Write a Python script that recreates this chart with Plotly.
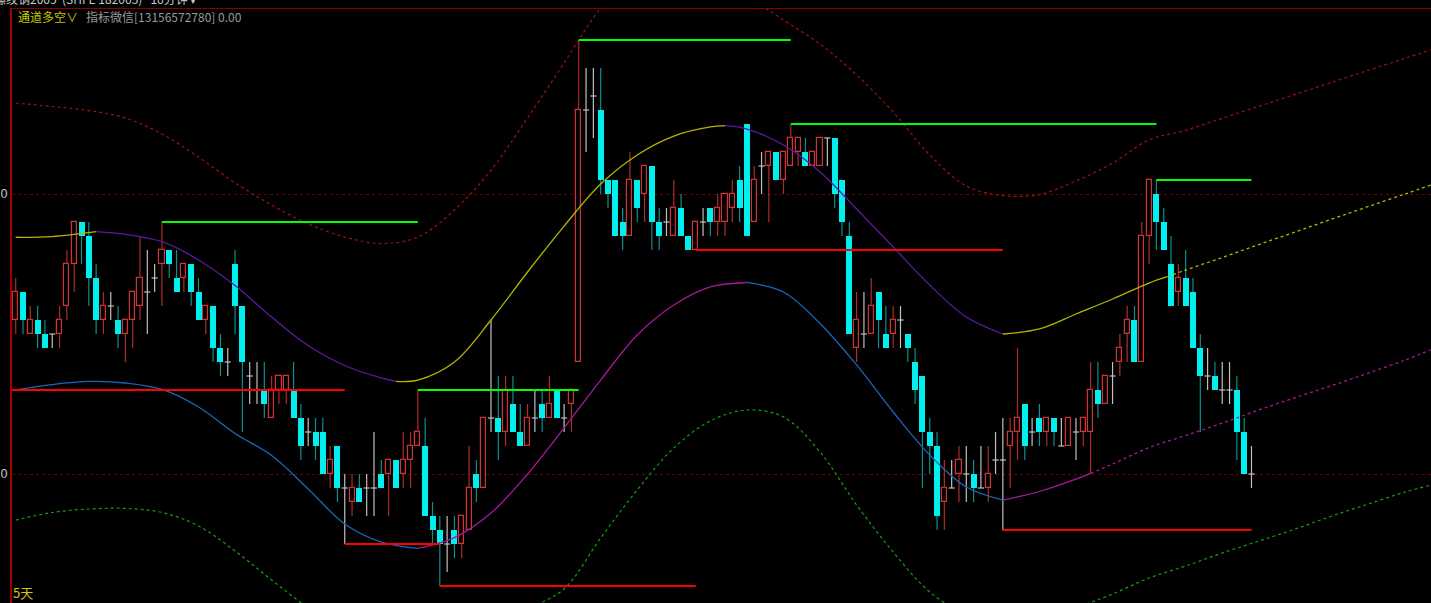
import plotly.graph_objects as go

# ---------------- candle data (price units, index = bar number) ----------------
opens = [3511, 3513, 3510, 3511, 3510, 3510, 3510, 3512, 3515, 3518,
         3517, 3514, 3511, 3512, 3511, 3510, 3511, 3512, 3513, 3514,
         3515, 3516, 3514, 3514, 3515, 3513, 3511, 3512, 3509, 3508,
         3515, 3512, 3507, 3506, 3506, 3504, 3506, 3506, 3506, 3504,
         3503, 3503, 3503, 3500, 3502, 3499, 3498, 3499, 3499, 3499,
         3500, 3500, 3501, 3500, 3501, 3502, 3502, 3497, 3496, 3495,
         3496, 3495, 3496, 3500, 3499, 3504, 3504, 3503, 3505, 3503,
         3502, 3504, 3505, 3504, 3506, 3504, 3505, 3508, 3526, 3527,
         3526, 3521, 3521, 3518, 3517, 3521, 3520, 3522, 3518, 3518,
         3517, 3519, 3517, 3516, 3518, 3519, 3518, 3518, 3519, 3521,
         3525, 3518, 3522, 3522, 3523, 3521, 3522, 3523, 3523, 3522,
         3522, 3524, 3524, 3521, 3517, 3509, 3510, 3510, 3513, 3510,
         3510, 3511, 3510, 3508, 3507, 3503, 3502, 3498, 3499, 3500,
         3500, 3500, 3499, 3499, 3501, 3501, 3502, 3503, 3505, 3503,
         3504, 3503, 3504, 3502, 3502, 3503, 3503, 3503, 3506, 3505,
         3507, 3508, 3510, 3511, 3508, 3517, 3520, 3518, 3515, 3513,
         3514, 3513, 3509, 3507, 3507, 3506, 3506, 3506, 3503, 3500]
highs = [3514, 3513, 3512, 3512, 3511, 3510, 3512, 3516, 3518, 3518,
         3518, 3515, 3513, 3513, 3512, 3511, 3513, 3517, 3516, 3515,
         3518, 3516, 3516, 3515, 3515, 3514, 3512, 3512, 3510, 3509,
         3516, 3512, 3508, 3508, 3508, 3507, 3507, 3507, 3508, 3505,
         3504, 3504, 3504, 3502, 3502, 3500, 3500, 3500, 3500, 3503,
         3501, 3501, 3501, 3503, 3503, 3506, 3504, 3498, 3497, 3497,
         3497, 3497, 3502, 3501, 3504, 3511, 3507, 3507, 3507, 3505,
         3505, 3506, 3506, 3507, 3506, 3505, 3506, 3531, 3529, 3529,
         3529, 3521, 3521, 3519, 3523, 3521, 3522, 3522, 3519, 3519,
         3521, 3520, 3517, 3518, 3519, 3519, 3520, 3520, 3521, 3522,
         3525, 3522, 3523, 3523, 3523, 3523, 3525, 3524, 3524, 3523,
         3524, 3524, 3524, 3521, 3518, 3513, 3513, 3514, 3513, 3512,
         3512, 3512, 3510, 3509, 3507, 3504, 3503, 3501, 3501, 3502,
         3502, 3501, 3502, 3502, 3503, 3504, 3504, 3509, 3505, 3504,
         3505, 3504, 3504, 3504, 3504, 3504, 3504, 3508, 3508, 3507,
         3508, 3510, 3512, 3512, 3518, 3521, 3521, 3519, 3517, 3515,
         3516, 3514, 3510, 3509, 3508, 3508, 3508, 3507, 3504, 3502]
lows = [3510, 3510, 3510, 3509, 3509, 3509, 3509, 3511, 3513, 3515,
        3512, 3510, 3510, 3511, 3509, 3508, 3509, 3511, 3510, 3513,
        3512, 3514, 3513, 3513, 3512, 3511, 3510, 3508, 3507, 3507,
        3510, 3503, 3505, 3505, 3504, 3504, 3505, 3505, 3504, 3501,
        3502, 3501, 3500, 3499, 3498, 3495, 3497, 3498, 3497, 3497,
        3499, 3497, 3499, 3499, 3499, 3502, 3497, 3495, 3492, 3493,
        3494, 3494, 3496, 3498, 3499, 3503, 3501, 3502, 3503, 3502,
        3502, 3503, 3503, 3504, 3504, 3503, 3503, 3508, 3523, 3524,
        3520, 3519, 3517, 3516, 3517, 3518, 3518, 3516, 3516, 3517,
        3517, 3517, 3516, 3516, 3517, 3517, 3517, 3517, 3518, 3518,
        3517, 3518, 3520, 3518, 3521, 3520, 3522, 3522, 3522, 3522,
        3522, 3522, 3519, 3517, 3510, 3508, 3509, 3510, 3509, 3509,
        3509, 3509, 3508, 3505, 3499, 3500, 3496, 3496, 3499, 3498,
        3498, 3498, 3499, 3498, 3500, 3496, 3499, 3501, 3501, 3502,
        3502, 3502, 3502, 3502, 3502, 3501, 3502, 3500, 3504, 3505,
        3505, 3507, 3508, 3508, 3508, 3515, 3516, 3516, 3512, 3512,
        3512, 3509, 3503, 3506, 3506, 3505, 3505, 3501, 3500, 3499]
closes = [3513, 3511, 3511, 3510, 3509, 3510, 3511, 3515, 3518, 3517,
          3514, 3511, 3512, 3512, 3510, 3511, 3513, 3514, 3513, 3514,
          3516, 3515, 3513, 3515, 3513, 3511, 3512, 3509, 3508, 3508,
          3512, 3508, 3507, 3506, 3505, 3506, 3507, 3507, 3504, 3502,
          3503, 3502, 3500, 3501, 3499, 3499, 3499, 3498, 3499, 3499,
          3499, 3501, 3499, 3501, 3502, 3503, 3497, 3496, 3495, 3495,
          3495, 3497, 3499, 3499, 3504, 3504, 3503, 3506, 3503, 3502,
          3504, 3504, 3504, 3505, 3504, 3504, 3506, 3526, 3526, 3527,
          3521, 3520, 3517, 3517, 3521, 3519, 3522, 3518, 3517, 3518,
          3519, 3517, 3516, 3518, 3518, 3518, 3519, 3520, 3520, 3519,
          3517, 3521, 3522, 3523, 3521, 3523, 3524, 3524, 3522, 3523,
          3524, 3524, 3520, 3518, 3510, 3511, 3510, 3512, 3511, 3509,
          3511, 3511, 3509, 3506, 3503, 3502, 3497, 3499, 3499, 3501,
          3500, 3499, 3499, 3500, 3501, 3501, 3503, 3504, 3502, 3503,
          3503, 3504, 3503, 3502, 3504, 3503, 3504, 3506, 3505, 3507,
          3507, 3509, 3511, 3508, 3517, 3521, 3518, 3516, 3512, 3514,
          3512, 3509, 3507, 3507, 3506, 3506, 3506, 3503, 3500, 3500]

# ---------------- channel lines (sampled at bar positions) ----------------
mid_idx = [0, 5, 11, 15, 20, 25, 30, 35, 40, 45, 50, 52, 55, 60, 65, 70, 75, 80,
           85, 90, 95, 97, 100, 105, 110, 115, 120, 125, 130, 135, 140, 145, 150,
           155, 157.5, 160, 165, 170, 175, 180, 185, 190, 193.5]
mid_line = [3516.91, 3516.96, 3517.31, 3517.11, 3516.59, 3515.29, 3513.46, 3511.21,
            3509.18, 3507.75, 3506.86, 3506.62, 3506.71, 3508.0, 3511.0, 3514.43,
            3517.71, 3520.71, 3522.79, 3524.14, 3524.79, 3524.88, 3524.64, 3523.5,
            3521.57, 3518.93, 3516.21, 3513.5, 3511.21, 3510.0, 3510.36, 3511.43,
            3512.5, 3513.64, 3514.09, 3514.57, 3515.46, 3516.39, 3517.29, 3518.21,
            3519.11, 3520.0, 3520.64]

low_idx = [0, 5, 10, 15, 20, 25, 30, 35, 40, 45, 50, 55, 60, 65, 70, 75, 80, 85, 90,
           95, 100, 105, 110, 115, 120, 125, 130, 135, 140, 145, 147, 150, 155, 160,
           165, 170, 175, 180, 185, 190, 193.5]
low_line = [3506.0, 3506.39, 3506.61, 3506.5, 3506.04, 3504.79, 3502.89, 3501.32,
            3498.93, 3496.43, 3495.14, 3494.69, 3495.46, 3497.21, 3500.0, 3503.29,
            3506.71, 3509.93, 3512.07, 3513.36, 3513.68, 3513.0, 3510.75, 3507.79,
            3504.43, 3501.36, 3499.07, 3498.14, 3498.75, 3499.64, 3500.05, 3500.71,
            3501.89, 3502.75, 3503.64, 3504.57, 3505.46, 3506.32, 3507.21, 3508.14,
            3508.86]

band_idx = [0, 5, 10, 15, 20, 25, 30, 35, 40, 45, 50, 55, 60, 65, 70, 75, 80, 85, 90,
            95, 100, 105, 110, 115, 120, 125, 130, 135, 140, 145, 150, 155, 160, 165,
            170, 175, 180, 185, 190, 193.5]
upper_band = [3526.5, 3526.25, 3525.96, 3525.43, 3524.29, 3522.64, 3520.79, 3519.21,
              3517.86, 3516.93, 3516.46, 3516.93, 3518.86, 3521.71, 3525.43, 3529.36,
              3533.29, 3536.0, 3537.07, 3536.71, 3534.21, 3532.43, 3530.71, 3528.5,
              3525.86, 3522.79, 3520.57, 3519.89, 3519.96, 3520.93, 3522.21, 3523.86,
              3524.55, 3525.41, 3526.26, 3527.12, 3527.98, 3528.84, 3529.69, 3530.29]
lower_band = [3496.71, 3497.25, 3497.5, 3497.54, 3497.25, 3496.29, 3494.5, 3492.43,
              3490.43, 3488.71, 3487.29, 3486.57, 3487.0, 3488.36, 3490.29, 3491.8,
              3495.43, 3498.86, 3501.86, 3503.79, 3504.57, 3504.07, 3501.57, 3497.79,
              3494.43, 3491.57, 3489.93, 3488.86, 3489.43, 3490.43, 3491.43, 3492.57,
              3493.43, 3494.36, 3495.21, 3496.07, 3497.0, 3497.86, 3498.71, 3499.21]

# support / resistance levels
res_levels = [3518, 3506, 3531, 3525, 3521]
res_from = [20, 55, 77, 106, 156]
res_to = [55, 77, 106, 156, 169]
sup_levels = [3506, 3495, 3492, 3516, 3496]
sup_from = [-0.5, 45, 58, 93, 135]
sup_to = [45, 58, 93, 135, 169]

grid_vals = [3500, 3520]
grid_text = ["0", "0"]

# ---------------- styles ----------------
BG = "#000000"
UP = "#d03434"
UP_WICK = "#b02a2a"
DN = "#00f0f0"
DN_WICK = "#0a9090"
DOJI = "#c0c0c0"
YEL = "#b4b400"
PUR = "#5c18a8"
BLU = "#1a66b8"
MAG = "#a8189a"
RBAND = "#a01010"
GBAND = "#10a010"

mid_segments = [(0, 11, YEL, "solid"), (11, 52, PUR, "solid"), (52, 97, YEL, "solid"),
                (97, 135, PUR, "solid"), (135, 157.5, YEL, "solid"), (157.5, 193.5, YEL, "dot")]
low_segments = [(0, 55, BLU, "solid"), (55, 100, MAG, "solid"), (100, 135, BLU, "solid"),
                (135, 147, MAG, "solid"), (147, 193.5, MAG, "dot")]

fig = go.Figure()

# bands
fig.add_trace(go.Scatter(x=band_idx, y=upper_band, mode="lines",
                         line=dict(color=RBAND, width=1.2, dash="dot", shape="spline", smoothing=1),
                         hoverinfo="skip", showlegend=False))
fig.add_trace(go.Scatter(x=band_idx, y=lower_band, mode="lines",
                         line=dict(color=GBAND, width=1.2, dash="dot", shape="spline", smoothing=1),
                         hoverinfo="skip", showlegend=False))

# candles
up_wx, up_wy, dn_wx, dn_wy, dj_x, dj_y = [], [], [], [], [], []
up_x, up_base, up_h, dn_x, dn_base, dn_h = [], [], [], [], [], []
for i, (o, h, l, c) in enumerate(zip(opens, highs, lows, closes)):
    top, bot = max(o, c), min(o, c)
    if c == o:
        dj_x += [i, i, None, i - 0.42, i + 0.42, None]
        dj_y += [l, h, None, o, o, None]
        continue
    wx, wy = (up_wx, up_wy) if c > o else (dn_wx, dn_wy)
    if h > top:
        wx += [i, i, None]
        wy += [top, h, None]
    if l < bot:
        wx += [i, i, None]
        wy += [l, bot, None]
    if c > o:
        up_x.append(i); up_base.append(bot); up_h.append(top - bot)
    else:
        dn_x.append(i); dn_base.append(bot); dn_h.append(top - bot)

fig.add_trace(go.Bar(x=up_x, y=up_h, base=up_base, width=0.7,
                     marker=dict(color=BG, line=dict(color=UP, width=1.2)),
                     hoverinfo="skip", showlegend=False))
fig.add_trace(go.Bar(x=dn_x, y=dn_h, base=dn_base, width=0.82,
                     marker=dict(color=DN, line=dict(width=0)),
                     hoverinfo="skip", showlegend=False))
fig.add_trace(go.Scatter(x=up_wx, y=up_wy, mode="lines", line=dict(color=UP_WICK, width=1.2),
                         hoverinfo="skip", showlegend=False))
fig.add_trace(go.Scatter(x=dn_wx, y=dn_wy, mode="lines", line=dict(color=DN_WICK, width=1.2),
                         hoverinfo="skip", showlegend=False))
fig.add_trace(go.Scatter(x=dj_x, y=dj_y, mode="lines", line=dict(color=DOJI, width=1.2),
                         hoverinfo="skip", showlegend=False))


def add_segments(xs, ys, segs):
    for a, b, col, dash in segs:
        sx = [x for x in xs if a <= x <= b]
        sy = [y for x, y in zip(xs, ys) if a <= x <= b]
        fig.add_trace(go.Scatter(x=sx, y=sy, mode="lines",
                                 line=dict(color=col, width=1.3, dash=dash, shape="spline", smoothing=1),
                                 hoverinfo="skip", showlegend=False))


add_segments(mid_idx, mid_line, mid_segments)
add_segments(low_idx, low_line, low_segments)

# support / resistance segments
for lv, a, b in zip(res_levels, res_from, res_to):
    fig.add_trace(go.Scatter(x=[a, b], y=[lv, lv], mode="lines",
                             line=dict(color="#00ff00", width=2.2), hoverinfo="skip", showlegend=False))
for lv, a, b in zip(sup_levels, sup_from, sup_to):
    fig.add_trace(go.Scatter(x=[a, b], y=[lv, lv], mode="lines",
                             line=dict(color="#ff0000", width=2.2), hoverinfo="skip", showlegend=False))

W, H = 1431, 603
ML, MT = 8, 9
PW, PH = W - ML, H - MT


def px(x):
    return (x - ML) / PW


def py(y):
    return (H - y) / PH


CJK = "Noto Sans CJK SC"
fig.add_annotation(x=px(-12), y=py(-1), xref="paper", yref="paper", xanchor="left", yanchor="middle",
                   text="螺纹钢2005  (SHFE 182005)   10分钟 ▾", showarrow=False,
                   font=dict(family=CJK, size=12, color="#c8c8c8"))
fig.add_annotation(x=px(12), y=py(16), xref="paper", yref="paper", xanchor="left", yanchor="middle",
                   text="通道多空∨", showarrow=False, font=dict(family=CJK, size=12, color="#c8c800"))
fig.add_annotation(x=px(80), y=py(16), xref="paper", yref="paper", xanchor="left", yanchor="middle",
                   text="指标微信[13156572780] 0.00", showarrow=False,
                   font=dict(family=CJK, size=12, color="#9a9a9a"))
fig.add_annotation(x=px(7), y=py(592), xref="paper", yref="paper", xanchor="left", yanchor="middle",
                   text="5天", showarrow=False, font=dict(family=CJK, size=13, color="#d8c800"))

fig.update_layout(
    width=W, height=H,
    margin=dict(l=ML, r=0, t=MT, b=0, pad=0),
    paper_bgcolor=BG, plot_bgcolor=BG,
    barmode="overlay", bargap=0,
    showlegend=False,
    xaxis=dict(range=[-0.505, 193.55], showgrid=False, zeroline=False, showticklabels=False,
               showline=True, side="top", linecolor="#8a0000", linewidth=1, ticks=""),
    yaxis=dict(range=[3490.786, 3533.214], tickvals=grid_vals, ticktext=grid_text,
               showgrid=True, gridcolor="#6e0000", griddash="dot", gridwidth=1,
               zeroline=False, showline=True, linecolor="#a00000", linewidth=1.5, ticks="",
               tickfont=dict(family="DejaVu Sans", size=12, color="#c0c0c0")),
)

fig.write_html("out.html", config={"displayModeBar": False},
               post_script="document.body.style.margin='0';document.body.style.overflow='hidden';")
